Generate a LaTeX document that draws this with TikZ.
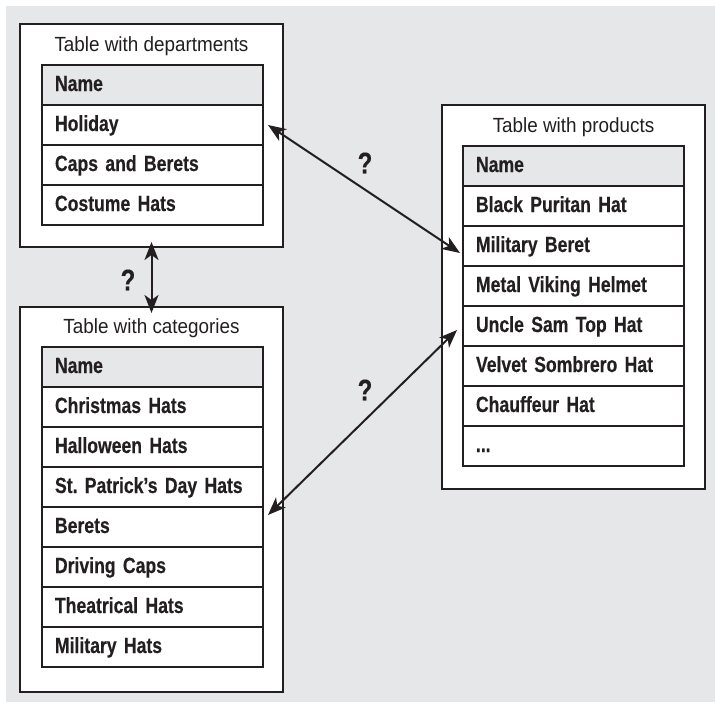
\documentclass[tikz,border=0pt]{standalone}
\usepackage{fontspec}
\setmainfont{Liberation Sans}
\newfontfamily\cellfont{Liberation Sans}[FakeStretch=0.8, WordSpace=0.75, BoldFeatures={FakeBold=0.3}]
\newfontfamily\titlefont{Liberation Sans}[FakeStretch=0.92]
\usetikzlibrary{arrows.meta,calc}
\definecolor{ink}{HTML}{231F20}
\definecolor{panel}{HTML}{E6E7E8}
\frenchspacing

\begin{document}
\begin{tikzpicture}[x=1pt,y=-1pt,
  frame/.style={draw=ink, line width=2pt, fill=white, anchor=north west,
    inner sep=0pt, outer sep=0pt, minimum width=263pt},
  cell/.style={draw=ink, line width=2pt, fill=white, anchor=north west,
    outer sep=0pt, inner ysep=0pt, inner xsep=13pt, text width=195pt,
    minimum height=40pt, text height=16pt, text depth=4pt,
    font=\cellfont\bfseries\fontsize{22}{26}\selectfont, text=ink},
  head/.style={cell, fill=panel},
  title/.style={font=\titlefont\fontsize{20.5}{24}\selectfont, text=ink,
    text height=15pt, text depth=4pt, inner sep=0pt},
  link/.style={draw=ink, line width=2pt, {Stealth[length=18pt,width=14pt,inset=5pt]}-{Stealth[length=18pt,width=14pt,inset=5pt]}},
  query/.style={font=\cellfont\bfseries\fontsize{30}{34}\selectfont, text=ink, inner sep=0pt}]

\useasboundingbox (0,0) rectangle (715,702);
\fill[panel] (6,6) rectangle (715,702);

% departments
\node[frame, minimum height=223pt] (deptbox) at (20,24) {};
\node[title] (depttitle) at ($(deptbox.north)+(0,22)$) {Table with departments};
\node[head] (d0) at (42,65)  {Name};
\node[cell] (d1) at (42,105) {Holiday};
\node[cell] (d2) at (42,145) {Caps and Berets};
\node[cell] (d3) at (42,185) {Costume Hats};

% categories
\node[frame, minimum height=385pt] (catbox) at (20,307) {};
\node[title] (cattitle) at ($(catbox.north)+(0,21)$) {Table with categories};
\node[head] (c0) at (42,347) {Name};
\node[cell] (c1) at (42,387) {Christmas Hats};
\node[cell] (c2) at (42,427) {Halloween Hats};
\node[cell] (c3) at (42,467) {St. Patrick’s Day Hats};
\node[cell] (c4) at (42,507) {Berets};
\node[cell] (c5) at (42,547) {Driving Caps};
\node[cell] (c6) at (42,587) {Theatrical Hats};
\node[cell] (c7) at (42,627) {Military Hats};

% products
\node[frame, minimum height=384pt] (prodbox) at (442,105) {};
\node[title] (prodtitle) at ($(prodbox.north)+(0,22)$) {Table with products};
\node[head] (p0) at (463,146) {Name};
\node[cell] (p1) at (463,186) {Black Puritan Hat};
\node[cell] (p2) at (463,226) {Military Beret};
\node[cell] (p3) at (463,266) {Metal Viking Helmet};
\node[cell] (p4) at (463,306) {Uncle Sam Top Hat};
\node[cell] (p5) at (463,346) {Velvet Sombrero Hat};
\node[cell] (p6) at (463,386) {Chauffeur Hat};
\node[cell] (p7) at (463,426) {...};

% relations
\draw[link] ($(deptbox.south)+(0,-5)$) -- ($(catbox.north)+(0,6)$);
\draw[link] ($(d1.east)+(5,0)$) -- ($(p2.west)+(-3,7)$);
\draw[link] ($(c4.east)+(5,-12)$) -- ($(p4.west)+(-6,4)$);

\node[query] (q1) at (128,280) {?};
\node[query] (q2) at (365,163) {?};
\node[query] (q3) at (365,390) {?};
\end{tikzpicture}
\end{document}
